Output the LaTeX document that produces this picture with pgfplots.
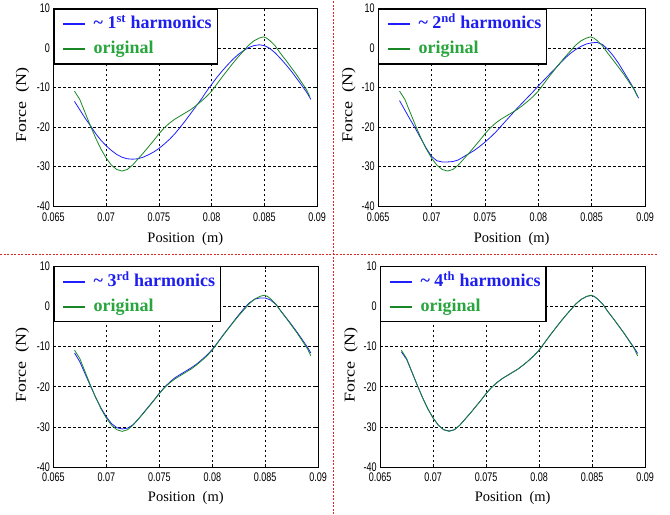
\documentclass[border=0pt]{standalone}
\usepackage{fontspec}
\setmainfont{Liberation Serif}
\newfontfamily\tickfont[FakeStretch=0.72]{Liberation Sans}
\newfontfamily\ylabfont[FakeStretch=1.2]{Liberation Serif}
\newfontfamily\legfont{Liberation Serif Bold}
\usepackage{pgfplots}
\pgfplotsset{compat=1.18}
\usepackage{pgfplotstable}

\definecolor{pblue}{RGB}{30,30,255}
\definecolor{pgreen}{RGB}{25,135,35}
\definecolor{tblue}{RGB}{30,30,240}
\definecolor{tgreen}{RGB}{40,165,60}
\definecolor{sepred}{RGB}{220,40,40}

\pgfplotstableread{
x y
0.0670 -10.9
0.0675 -13.0
0.0680 -16.3
0.0685 -19.6
0.0690 -22.7
0.0695 -25.5
0.0700 -27.8
0.0705 -29.6
0.0710 -30.7
0.0715 -31.1
0.0720 -30.7
0.0725 -29.6
0.0730 -28.1
0.0735 -26.6
0.0740 -25.0
0.0745 -23.4
0.0750 -21.7
0.0755 -20.2
0.0760 -19.0
0.0765 -18.0
0.0770 -17.2
0.0775 -16.4
0.0780 -15.6
0.0785 -14.6
0.0790 -13.5
0.0795 -12.3
0.0800 -10.9
0.0805 -9.1
0.0810 -7.3
0.0815 -5.6
0.0820 -3.9
0.0825 -2.3
0.0830 -0.8
0.0835 0.7
0.0840 1.8
0.0845 2.5
0.0849 2.8
0.0852 2.5
0.0855 1.9
0.0860 0.6
0.0865 -1.3
0.0870 -3.0
0.0875 -4.8
0.0880 -6.6
0.0885 -8.6
0.0890 -10.6
0.0893 -12.3
}\original

\pgfplotstableread{
x y
0.0670 -13.5
0.0675 -15.6
0.0680 -17.7
0.0685 -19.6
0.0690 -21.6
0.0695 -23.3
0.0700 -24.7
0.0705 -25.9
0.0710 -26.9
0.0715 -27.6
0.0720 -28.0
0.0725 -28.1
0.0730 -28.0
0.0735 -27.6
0.0740 -27.0
0.0745 -26.3
0.0750 -25.4
0.0755 -24.3
0.0760 -23.1
0.0765 -21.7
0.0770 -20.1
0.0775 -18.4
0.0780 -16.6
0.0785 -14.8
0.0790 -13.0
0.0795 -11.0
0.0800 -9.2
0.0805 -7.4
0.0810 -5.8
0.0815 -4.3
0.0820 -2.9
0.0825 -1.7
0.0830 -0.7
0.0835 0.1
0.0840 0.6
0.0845 0.8
0.0850 0.6
0.0855 -0.1
0.0860 -1.2
0.0865 -2.6
0.0870 -4.1
0.0875 -5.7
0.0880 -7.5
0.0885 -9.3
0.0890 -11.2
0.0894 -13.0
}\harmA

\pgfplotstableread{
x y
0.0670 -13.3
0.0675 -15.7
0.0680 -18.1
0.0685 -20.4
0.0690 -22.9
0.0695 -25.3
0.0700 -27.4
0.0705 -28.5
0.0710 -28.8
0.0715 -28.8
0.0720 -28.7
0.0725 -28.3
0.0730 -27.5
0.0735 -26.7
0.0740 -25.9
0.0745 -24.9
0.0750 -23.8
0.0755 -22.6
0.0760 -21.3
0.0765 -19.8
0.0770 -18.3
0.0775 -16.8
0.0780 -15.3
0.0785 -13.9
0.0790 -12.5
0.0795 -11.1
0.0800 -9.6
0.0805 -8.2
0.0810 -6.8
0.0815 -5.4
0.0820 -4.0
0.0825 -2.6
0.0830 -1.4
0.0835 -0.4
0.0840 0.4
0.0845 1.0
0.0850 1.3
0.0855 1.4
0.0860 0.9
0.0865 -0.3
0.0870 -1.9
0.0875 -3.8
0.0880 -6.0
0.0885 -8.2
0.0890 -10.5
0.0894 -12.7
}\harmB

\pgfplotstableread{
x y
0.0670 -11.6
0.0675 -13.8
0.0680 -16.8
0.0685 -19.8
0.0690 -22.7
0.0695 -25.3
0.0700 -27.5
0.0705 -29.2
0.0710 -30.2
0.0715 -30.5
0.0720 -30.3
0.0725 -29.5
0.0730 -28.1
0.0735 -26.5
0.0740 -24.9
0.0745 -23.3
0.0750 -21.6
0.0755 -20.1
0.0760 -18.8
0.0765 -17.7
0.0770 -16.9
0.0775 -16.1
0.0780 -15.3
0.0785 -14.4
0.0790 -13.3
0.0795 -12.1
0.0800 -10.7
0.0805 -9.0
0.0810 -7.2
0.0815 -5.5
0.0820 -3.8
0.0825 -2.1
0.0830 -0.5
0.0835 0.9
0.0840 1.8
0.0845 2.1
0.0850 2.1
0.0855 1.6
0.0860 0.5
0.0865 -1.2
0.0870 -2.9
0.0875 -4.6
0.0880 -6.4
0.0885 -8.3
0.0890 -10.2
0.0893 -11.6
}\harmC

\pgfplotstableread{
x y
0.0670 -11.3
0.0675 -13.2
0.0680 -16.4
0.0685 -19.6
0.0690 -22.7
0.0695 -25.5
0.0700 -27.8
0.0705 -29.6
0.0710 -30.7
0.0715 -31.0
0.0720 -30.7
0.0725 -29.6
0.0730 -28.1
0.0735 -26.6
0.0740 -25.0
0.0745 -23.4
0.0750 -21.7
0.0755 -20.2
0.0760 -19.0
0.0765 -18.0
0.0770 -17.2
0.0775 -16.4
0.0780 -15.6
0.0785 -14.6
0.0790 -13.5
0.0795 -12.3
0.0800 -10.9
0.0805 -9.1
0.0810 -7.3
0.0815 -5.6
0.0820 -3.9
0.0825 -2.3
0.0830 -0.8
0.0835 0.7
0.0840 1.8
0.0845 2.5
0.0849 2.7
0.0852 2.5
0.0855 1.9
0.0860 0.6
0.0865 -1.3
0.0870 -3.0
0.0875 -4.8
0.0880 -6.6
0.0885 -8.5
0.0890 -10.4
0.0893 -11.7
}\harmD

\pgfplotsset{panel/.style={
  scale only axis,
  axis line style={line width=0.8bp, black},
  xmin=0.065, xmax=0.09, ymin=-40, ymax=10,
  scaled x ticks=false, scaled y ticks=false,
  xtick={0.065,0.07,0.075,0.08,0.085,0.09},
  xticklabels={0.065,0.07,0.075,0.08,0.085,0.09},
  ytick={-40,-30,-20,-10,0,10},
  yticklabels={-40,-30,-20,-10,0,10},
  tick label style={font=\fontsize{12.5bp}{13bp}\tickfont, text=black},
  xticklabel style={yshift=-2.5bp},
  grid=major,
  major grid style={dash pattern=on 2.5bp off 2.5bp, line width=0.8bp, black},
  tick align=inside, major tick length=3bp,
  tick style={black, line width=0.6bp},
  xlabel={Position\ \ (m)}, ylabel={Force\ \ (N)},
  xlabel style={font=\fontsize{14.5bp}{15bp}\selectfont, at={(axis description cs:0.5,0)}, anchor=north, inner sep=0pt, yshift=-26bp},
  ylabel style={font=\fontsize{15bp}{16bp}\ylabfont, at={(axis description cs:-0.117,0.51)}, anchor=center, inner sep=0pt},
  legend style={at={(0,1)}, anchor=north west, draw=black, line width=1.2bp,
    font=\fontsize{18bp}{20bp}\legfont, inner xsep=4bp, inner ysep=5bp,
    nodes={inner sep=1.5bp, text height=13bp, text depth=4bp},
    row sep=5bp, column sep=6bp},
  legend cell align=left,
  legend image code/.code={\path[draw=none,fill=none] (0bp,0bp) -- (2bp,0bp); \draw[line width=2.6bp] (5bp,0bp) -- (27bp,0bp);},
  every axis plot/.append style={line width=0.8bp},
}}

\begin{document}
\begin{tikzpicture}
\path (0,0) rectangle (670bp,514bp);

\begin{axis}[panel, at={(53bp,308bp)}, anchor=south west, width=264bp, height=198bp]
\addplot[pblue, no marks] table[x=x,y=y] {\harmA};
\addlegendentry{\textcolor{tblue}{\textasciitilde{} 1\textsuperscript{st} harmonics}}
\addplot[pgreen, no marks] table[x=x,y=y] {\original};
\addlegendentry{\textcolor{tgreen}{original}}
\end{axis}

\begin{axis}[panel, at={(378bp,308bp)}, anchor=south west, width=267bp, height=198bp,
  ylabel style={at={(axis description cs:-0.11,0.51)}}]
\addplot[pblue, no marks] table[x=x,y=y] {\harmB};
\addlegendentry{\textcolor{tblue}{\textasciitilde{} 2\textsuperscript{nd} harmonics}}
\addplot[pgreen, no marks] table[x=x,y=y] {\original};
\addlegendentry{\textcolor{tgreen}{original}}
\end{axis}

\begin{axis}[panel, at={(53bp,47bp)}, anchor=south west, width=265bp, height=201bp,
  xlabel style={yshift=2bp}]
\addplot[pblue, no marks] table[x=x,y=y] {\harmC};
\addlegendentry{\textcolor{tblue}{\textasciitilde{} 3\textsuperscript{rd} harmonics}}
\addplot[pgreen, no marks] table[x=x,y=y] {\original};
\addlegendentry{\textcolor{tgreen}{original}}
\end{axis}

\begin{axis}[panel, at={(380bp,47bp)}, anchor=south west, width=265bp, height=201bp,
  xlabel style={yshift=2bp}, ylabel style={at={(axis description cs:-0.11,0.51)}}]
\addplot[pblue, no marks] table[x=x,y=y] {\harmD};
\addlegendentry{\textcolor{tblue}{\textasciitilde{} 4\textsuperscript{th} harmonics}}
\addplot[pgreen, no marks] table[x=x,y=y] {\original};
\addlegendentry{\textcolor{tgreen}{original}}
\end{axis}

\draw[sepred, line width=0.8bp, dash pattern=on 2bp off 1.5bp] (333bp,0bp) -- (333bp,514bp);
\draw[sepred, line width=0.8bp, dash pattern=on 2bp off 1.5bp] (0bp,260bp) -- (657bp,260bp);
\end{tikzpicture}
\end{document}
